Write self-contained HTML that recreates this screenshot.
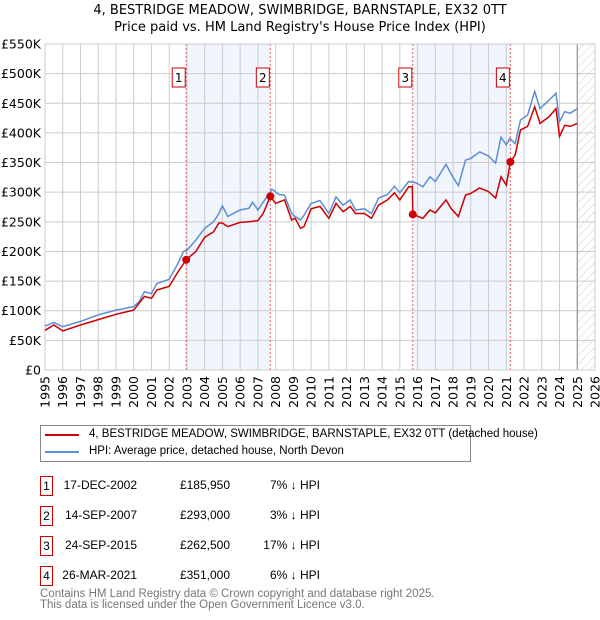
<!DOCTYPE html>
<html><head><meta charset="utf-8"><style>
body{margin:0;background:#fff;font-family:"Liberation Sans","DejaVu Sans",sans-serif;}
#wrap{position:relative;width:600px;height:620px;overflow:hidden;}
.t{position:absolute;font-size:12px;color:#000;white-space:nowrap}
</style></head><body><div id="wrap">
<svg id="chart" width="600" height="620" style="position:absolute;left:0;top:0">
<text x="300" y="14" text-anchor="middle" font-size="13" font-family="DejaVu Sans,sans-serif">4, BESTRIDGE MEADOW, SWIMBRIDGE, BARNSTAPLE, EX32 0TT</text>
<text x="300" y="31" text-anchor="middle" font-size="13" font-family="DejaVu Sans,sans-serif">Price paid vs. HM Land Registry's House Price Index (HPI)</text>
<g id="plot"></g>
</svg>
<div style="position:absolute;left:40px;top:425px;width:429px;height:35px;border:1px solid #888;font-family:'Liberation Sans',sans-serif;font-size:11.5px;white-space:nowrap">
<div style="position:absolute;left:4px;top:8px;width:34px;height:2px;background:#cc0000"></div>
<div style="position:absolute;left:48px;top:2px">4, BESTRIDGE MEADOW, SWIMBRIDGE, BARNSTAPLE, EX32 0TT (detached house)</div>
<div style="position:absolute;left:4px;top:25px;width:34px;height:2px;background:#5b8fd4"></div>
<div style="position:absolute;left:48px;top:19px">HPI: Average price, detached house, North Devon</div>
</div>
<div id="table" style="font-family:'Liberation Sans',sans-serif"></div>
<div class="t" style="left:40px;top:589px;color:#777;font-size:11.5px;line-height:11px;font-family:'Liberation Sans',sans-serif">Contains HM Land Registry data © Crown copyright and database right 2025.<br>This data is licensed under the Open Government Licence v3.0.</div>
</div>
<script>
const hpiYears=[1995,1995.5,1996,1997,1998,1999,2000,2000.3,2000.6,2001,2001.3,2002,2002.5,2002.8,2003,2003.5,2004,2004.5,2004.8,2005,2005.3,2005.8,2006,2006.5,2006.7,2007,2007.5,2007.8,2008.2,2008.5,2008.9,2009.1,2009.4,2009.6,2010,2010.5,2011,2011.4,2011.8,2012.2,2012.5,2013,2013.4,2013.8,2014.3,2014.7,2015,2015.5,2015.9,2016.3,2016.7,2017,2017.6,2017.9,2018.3,2018.7,2019,2019.5,2020,2020.4,2020.7,2021,2021.2,2021.5,2021.8,2022.2,2022.6,2022.9,2023.4,2023.8,2024,2024.3,2024.6,2025];
const hpiValues=[74,80,73,82,93,101,107,115,132,129,146,153,180,200,202,219,239,250,264,277,259,267,270,273,283,270,292,305,296,295,264,259,253,261,281,286,264,292,278,287,270,272,264,290,296,310,299,318,316,309,326,318,347,330,311,354,357,368,361,349,393,380,391,382,422,430,470,441,455,467,419,436,433,441];
const priceYears=[1995,1995.5,1996,1997,1998,1999,2000,2000.6,2001,2001.3,2002,2002.5,2002.96,2003.5,2004,2004.5,2004.8,2005,2005.3,2006,2006.5,2007,2007.3,2007.7,2008,2008.5,2008.9,2009.1,2009.4,2009.6,2010,2010.5,2011,2011.4,2011.8,2012.2,2012.5,2013,2013.4,2013.8,2014.3,2014.7,2015,2015.5,2015.7,2015.73,2016.3,2016.7,2017,2017.6,2017.9,2018.3,2018.7,2019,2019.5,2020,2020.4,2020.7,2021,2021.23,2021.5,2021.8,2022.2,2022.6,2022.9,2023.4,2023.8,2024,2024.3,2024.6,2025];
const priceValues=[67,76,66,76,85,94,101,124,121,135,141,166,185.95,200,224,233,248,248,242,249,250,252,264,293,281,287,253,256,239,242,272,276,256,281,267,276,264,264,256,278,287,299,287,309,309,262.5,256,270,265,287,272,259,295,298,307,301,290,326,312,351,363,405,411,444,416,427,441,394,413,411,416];
const saleLabels=["1","2","3","4"];
const saleYears=[2002.96,2007.7,2015.73,2021.23];
const saleValues=[185.95,293,262.5,351];
const saleDates=["17-DEC-2002","14-SEP-2007","24-SEP-2015","26-MAR-2021"];
const salePrices=["£185,950","£293,000","£262,500","£351,000"];
const saleDiffs=["7% ↓ HPI","3% ↓ HPI","17% ↓ HPI","6% ↓ HPI"];
const yTicks=[0,50,100,150,200,250,300,350,400,450,500,550];
const xTicks=[1995,1996,1997,1998,1999,2000,2001,2002,2003,2004,2005,2006,2007,2008,2009,2010,2011,2012,2013,2014,2015,2016,2017,2018,2019,2020,2021,2022,2023,2024,2025,2026];

const X0=45,X1=595,Y0=370,Y1=44;
const xs=y=>X0+(y-1995)/(2026-1995)*(X1-X0);
const ys=v=>Y0-v/550*(Y0-Y1);
const NS="http://www.w3.org/2000/svg";
const g=document.getElementById('plot');
function mk(tag,attrs){const e=document.createElementNS(NS,tag);for(const k in attrs)e.setAttribute(k,attrs[k]);g.appendChild(e);return e;}
for(const [a,b] of [[0,1],[2,3]]){
 const r=mk('rect',{x:xs(saleYears[a]),y:Y1,width:xs(saleYears[b])-xs(saleYears[a]),height:Y0-Y1,fill:'#f1f5fd'});
 
 
}
const defs=mk('defs',{});
defs.innerHTML='<pattern id="hatch" width="6" height="6" patternUnits="userSpaceOnUse" patternTransform="rotate(45)"><line x1="0" y1="0" x2="0" y2="6" stroke="#ccc" stroke-width="1"/></pattern>';
const hr=mk('rect',{x:xs(2025),y:Y1,width:X1-xs(2025),height:Y0-Y1,fill:'url(#hatch)'});


yTicks.forEach(v=>{
 const l=mk('line',{x1:X0,x2:X1,y1:ys(v),y2:ys(v),stroke:'#cccccc','stroke-width':1});
 
 
 const t=mk('text',{x:X0-4,y:ys(v)+4.5,'text-anchor':'end','font-size':12.5,'font-family':'DejaVu Sans,sans-serif'});
 t.textContent=v===0?'£0':'£'+v+'K';
 
 
});
xTicks.forEach(y=>{
 const l=mk('line',{x1:xs(y),x2:xs(y),y1:Y1,y2:Y0,stroke:'#cccccc','stroke-width':1});
 
 
 const t=mk('text',{x:0,y:0,'text-anchor':'end','font-size':12.5,'font-family':'DejaVu Sans,sans-serif',transform:`translate(${xs(y)+4.5},${Y0+6}) rotate(-90)`});
 t.textContent=y;
 
 
});
const vl=mk('line',{x1:xs(2025),x2:xs(2025),y1:Y1,y2:Y0,stroke:'#888','stroke-width':1});


saleYears.forEach((y,i)=>{
 const l=mk('line',{x1:xs(y),x2:xs(y),y1:Y1,y2:Y0,stroke:'#e06060','stroke-width':1,'stroke-dasharray':'2,2'});
 
 
 const r=mk('rect',{x:xs(y)-14,y:68,width:13,height:19,fill:'#fff',stroke:'#cc0000','stroke-width':1});
 
 
 const t=mk('text',{x:xs(y)-7.5,y:82,'text-anchor':'middle','font-size':12,'font-family':'DejaVu Sans,sans-serif'});
 t.textContent=saleLabels[i];
 
 
});
const border=mk('rect',{x:X0,y:Y1,width:X1-X0,height:Y0-Y1,fill:'none',stroke:'#cccccc'});


const hp=mk('path',{d:hpiYears.map((y,i)=>(i?'L':'M')+xs(y).toFixed(1)+','+ys(hpiValues[i]).toFixed(1)).join(''),fill:'none',stroke:'#5b8fd4','stroke-width':1.5});


const pp=mk('path',{d:priceYears.map((y,i)=>(i?'L':'M')+xs(y).toFixed(1)+','+ys(priceValues[i]).toFixed(1)).join(''),fill:'none',stroke:'#cc0000','stroke-width':1.5});


saleYears.forEach((y,i)=>{
 const c=mk('circle',{cx:xs(y),cy:ys(saleValues[i]),r:4,fill:'#cc0000'});
 
 
});
const tb=document.getElementById('table');
saleLabels.forEach((s,i)=>{
 const top=476+i*30;
 const row=document.createElement('div');
 
 
 row.style.cssText=`position:absolute;left:0;top:${top}px;width:600px;height:20px;font-size:12px;white-space:nowrap`;
 row.innerHTML=`<div style="position:absolute;left:40px;top:0;width:11px;height:18px;border:1px solid #cc0000;text-align:center;line-height:18px">${s}</div>
<div style="position:absolute;right:463px;top:2px">${saleDates[i]}</div>
<div style="position:absolute;right:370px;top:2px">${salePrices[i]}</div>
<div style="position:absolute;right:280px;top:2px">${saleDiffs[i]}</div>`;
 tb.appendChild(row);
});
</script>
</body></html>
